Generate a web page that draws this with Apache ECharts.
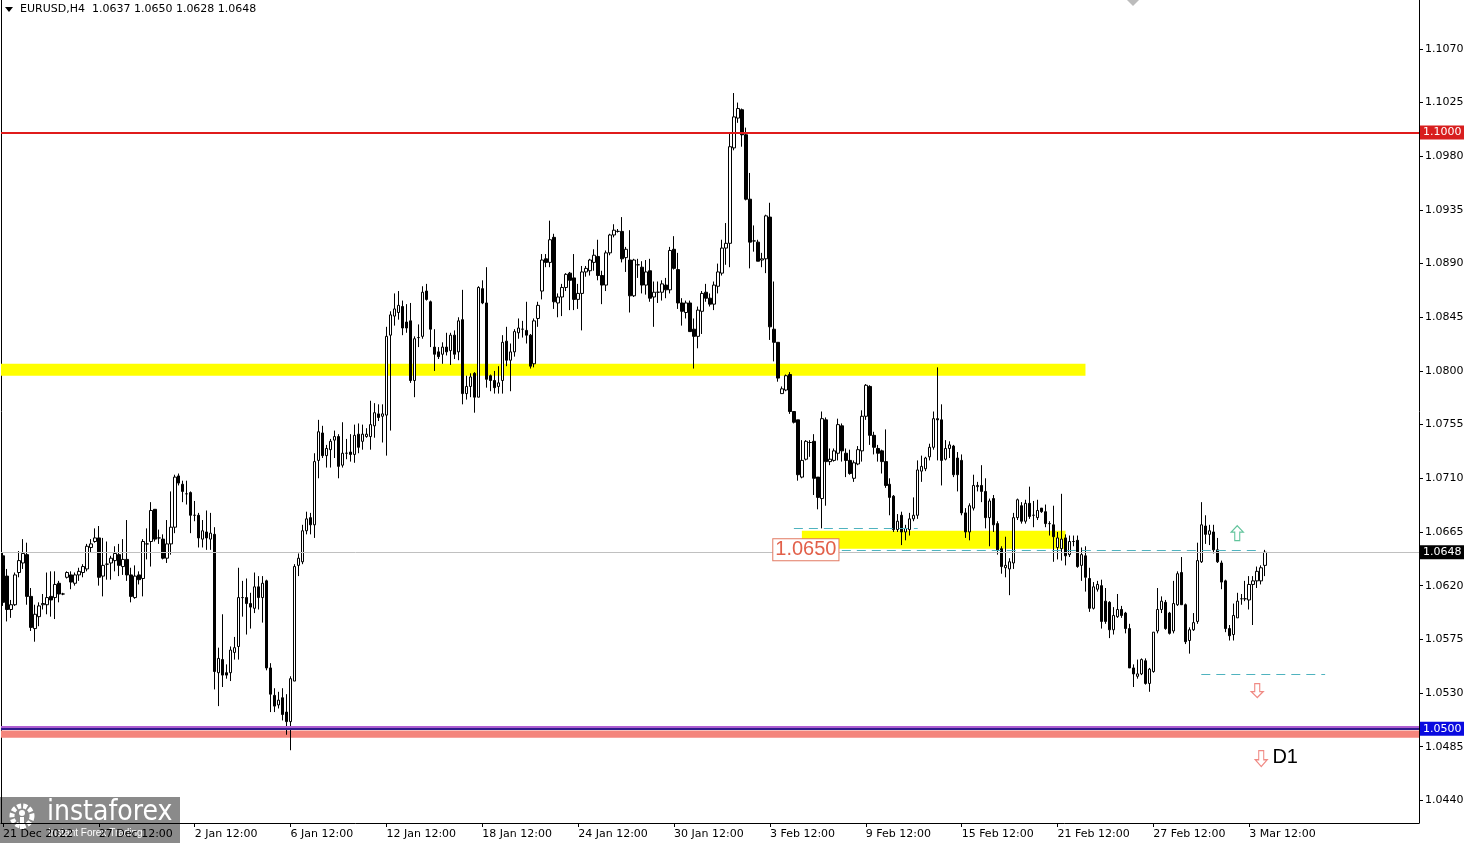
<!DOCTYPE html>
<html>
<head>
<meta charset="utf-8">
<title>EURUSD,H4</title>
<script src="https://cdn.jsdelivr.net/npm/echarts@6.0.0/dist/echarts.min.js"></script>
<style>
  html, body { margin: 0; padding: 0; background: #fff; }
  #chart { width: 1464px; height: 843px; }
</style>
</head>
<body>
<div id="chart"></div>
<script>
// H4 bars, each one [open, close, low, high], first bar 21 Dec 2022 12:00
const bars21Dec = [
  [1.0645,1.0606,1.0603,1.0648],[1.0628,1.0600,1.0590,1.0634],[1.0600,1.0604,1.0593,1.0608],[1.0604,1.0629,1.0603,1.0631],
  [1.0631,1.0641,1.0627,1.0649],[1.0639,1.0647,1.0634,1.0659],[1.0646,1.0611,1.0604,1.0656],[1.0611,1.0585,1.0582,1.0618],
  [1.0584,1.0596,1.0573,1.0604],[1.0594,1.0603,1.0586,1.0606],[1.0604,1.0605,1.0600,1.0613],[1.0604,1.0610,1.0596,1.0631],
  [1.0611,1.0608,1.0594,1.0632],[1.0610,1.0621,1.0592,1.0632],[1.0622,1.0613,1.0606,1.0624],[1.0613,1.0613,1.0612,1.0614],
  [1.0627,1.0631,1.0626,1.0632],[1.0629,1.0623,1.0617,1.0632],[1.0622,1.0629,1.0620,1.0631],[1.0629,1.0632,1.0624,1.0635],
  [1.0631,1.0636,1.0627,1.0638],[1.0634,1.0653,1.0632,1.0655],[1.0652,1.0655,1.0648,1.0659],[1.0657,1.0660,1.0656,1.0668],
  [1.0660,1.0627,1.0620,1.0670],[1.0628,1.0637,1.0611,1.0660],[1.0638,1.0638,1.0625,1.0657],[1.0639,1.0643,1.0625,1.0645],
  [1.0641,1.0647,1.0632,1.0653],[1.0646,1.0637,1.0628,1.0655],[1.0636,1.0642,1.0629,1.0659],[1.0642,1.0629,1.0624,1.0675],
  [1.0629,1.0611,1.0606,1.0635],[1.0610,1.0628,1.0609,1.0637],[1.0629,1.0625,1.0621,1.0632],[1.0626,1.0657,1.0611,1.0659],
  [1.0655,1.0655,1.0642,1.0668],[1.0657,1.0683,1.0636,1.0690],[1.0684,1.0659,1.0657,1.0684],[1.0660,1.0660,1.0655,1.0667],
  [1.0659,1.0643,1.0642,1.0663],[1.0643,1.0655,1.0639,1.0675],[1.0655,1.0669,1.0646,1.0699],[1.0669,1.0711,1.0664,1.0713],
  [1.0712,1.0706,1.0704,1.0714],[1.0705,1.0699,1.0690,1.0708],[1.0697,1.0697,1.0688,1.0708],[1.0698,1.0679,1.0664,1.0699],
  [1.0679,1.0679,1.0674,1.0691],[1.0679,1.0660,1.0652,1.0681],[1.0659,1.0666,1.0652,1.0675],[1.0665,1.0660,1.0650,1.0683],
  [1.0659,1.0664,1.0650,1.0681],[1.0663,1.0548,1.0533,1.0669]
];
const bars3Jan = [
  [1.0547,1.0559,1.0519,1.0568],[1.0558,1.0545,1.0535,1.0596],[1.0547,1.0545,1.0542,1.0554],[1.0547,1.0566,1.0540,1.0569],
  [1.0564,1.0568,1.0558,1.0577],[1.0569,1.0610,1.0558,1.0635],[1.0610,1.0610,1.0594,1.0624],[1.0610,1.0605,1.0579,1.0626],
  [1.0605,1.0602,1.0584,1.0614],[1.0601,1.0619,1.0597,1.0631],[1.0619,1.0610,1.0600,1.0628],[1.0610,1.0622,1.0589,1.0628],
  [1.0624,1.0551,1.0549,1.0625],[1.0551,1.0529,1.0514,1.0555],[1.0528,1.0519,1.0514,1.0534],[1.0520,1.0524,1.0517,1.0531],
  [1.0526,1.0512,1.0507,1.0534],[1.0514,1.0506,1.0495,1.0529],[1.0506,1.0542,1.0482,1.0544],[1.0540,1.0636,1.0540,1.0638],
  [1.0637,1.0643,1.0628,1.0647],[1.0640,1.0666,1.0638,1.0671],[1.0666,1.0676,1.0663,1.0682],[1.0677,1.0671,1.0663,1.0681],
  [1.0671,1.0724,1.0660,1.0731],[1.0725,1.0749,1.0710,1.0759],[1.0748,1.0729,1.0727,1.0754],[1.0729,1.0735,1.0719,1.0738],
  [1.0734,1.0741,1.0719,1.0743],[1.0742,1.0745,1.0727,1.0750],[1.0745,1.0720,1.0710,1.0747],[1.0721,1.0731,1.0719,1.0757],
  [1.0731,1.0731,1.0726,1.0743],[1.0732,1.0730,1.0724,1.0747],[1.0730,1.0746,1.0723,1.0755],[1.0747,1.0736,1.0731,1.0756],
  [1.0741,1.0747,1.0734,1.0755],[1.0745,1.0747,1.0744,1.0752],[1.0745,1.0755,1.0734,1.0775],[1.0754,1.0765,1.0744,1.0773],
  [1.0764,1.0761,1.0758,1.0772],[1.0762,1.0764,1.0740,1.0772],[1.0763,1.0829,1.0729,1.0837],[1.0830,1.0847,1.0750,1.0850],
  [1.0846,1.0852,1.0838,1.0865],[1.0849,1.0855,1.0843,1.0867],[1.0854,1.0836,1.0830,1.0859],[1.0841,1.0836,1.0832,1.0856],
  [1.0842,1.0792,1.0790,1.0857],[1.0792,1.0827,1.0778,1.0829],[1.0828,1.0828,1.0820,1.0839],[1.0829,1.0866,1.0827,1.0871]
];
const bars13Jan = [
  [1.0867,1.0860,1.0859,1.0873],[1.0858,1.0835,1.0820,1.0859],[1.0820,1.0814,1.0800,1.0835],[1.0816,1.0812,1.0810,1.0820],
  [1.0814,1.0820,1.0806,1.0824],[1.0820,1.0816,1.0813,1.0832],[1.0817,1.0830,1.0805,1.0832],[1.0830,1.0814,1.0810,1.0834],
  [1.0816,1.0842,1.0809,1.0845],[1.0843,1.0781,1.0772,1.0868],[1.0781,1.0787,1.0776,1.0796],[1.0787,1.0795,1.0778,1.0798],
  [1.0798,1.0778,1.0765,1.0799],[1.0778,1.0870,1.0778,1.0871],[1.0869,1.0857,1.0856,1.0876],[1.0857,1.0793,1.0786,1.0887],
  [1.0796,1.0792,1.0783,1.0797],[1.0792,1.0786,1.0781,1.0800],[1.0787,1.0790,1.0781,1.0804],[1.0792,1.0824,1.0781,1.0830],
  [1.0825,1.0809,1.0804,1.0837],[1.0809,1.0816,1.0783,1.0823],[1.0816,1.0833,1.0812,1.0835],[1.0832,1.0836,1.0827,1.0844],
  [1.0835,1.0835,1.0828,1.0842],[1.0834,1.0830,1.0823,1.0858],[1.0830,1.0804,1.0802,1.0831],[1.0806,1.0842,1.0803,1.0844],
  [1.0844,1.0855,1.0837,1.0858],[1.0867,1.0893,1.0860,1.0898],[1.0894,1.0891,1.0887,1.0898],[1.0891,1.0910,1.0887,1.0926],
  [1.0912,1.0858,1.0852,1.0915],[1.0857,1.0862,1.0845,1.0865],[1.0862,1.0870,1.0846,1.0873],[1.0870,1.0881,1.0867,1.0882],
  [1.0882,1.0876,1.0851,1.0883],[1.0878,1.0860,1.0851,1.0898],[1.0860,1.0865,1.0852,1.0873],[1.0865,1.0883,1.0834,1.0888],
  [1.0883,1.0886,1.0879,1.0888],[1.0884,1.0893,1.0880,1.0894],[1.0891,1.0897,1.0884,1.0902],[1.0896,1.0880,1.0876,1.0910],
  [1.0880,1.0872,1.0856,1.0884],[1.0872,1.0899,1.0867,1.0901],[1.0899,1.0914,1.0897,1.0915],[1.0914,1.0918,1.0912,1.0923],
  [1.0917,1.0917,1.0916,1.0919],[1.0917,1.0894,1.0891,1.0929],[1.0895,1.0902,1.0883,1.0904],[1.0893,1.0863,1.0849,1.0918],
  [1.0863,1.0893,1.0862,1.0894]
];
const bars26Jan = [
  [1.0889,1.0889,1.0878,1.0894],[1.0887,1.0872,1.0865,1.0892],[1.0872,1.0883,1.0864,1.0893],[1.0884,1.0861,1.0858,1.0894],
  [1.0862,1.0866,1.0837,1.0875],[1.0866,1.0866,1.0857,1.0875],[1.0866,1.0873,1.0859,1.0876],[1.0872,1.0868,1.0861,1.0878],
  [1.0868,1.0901,1.0865,1.0904],[1.0902,1.0886,1.0885,1.0913],[1.0885,1.0857,1.0852,1.0899],[1.0857,1.0850,1.0838,1.0861],
  [1.0849,1.0857,1.0844,1.0859],[1.0857,1.0833,1.0833,1.0859],[1.0835,1.0829,1.0802,1.0844],[1.0829,1.0851,1.0819,1.0854],
  [1.0850,1.0865,1.0831,1.0867],[1.0866,1.0861,1.0858,1.0873],[1.0861,1.0856,1.0854,1.0865],[1.0856,1.0872,1.0851,1.0875],
  [1.0871,1.0883,1.0865,1.0890],[1.0882,1.0903,1.0880,1.0910],[1.0903,1.0907,1.0889,1.0924],[1.0907,1.0988,1.0887,1.0999],
  [1.0987,1.1013,1.0985,1.1033],[1.1012,1.1020,1.1008,1.1025],[1.1019,1.0998,1.0988,1.1020],[1.0998,1.0944,1.0943,1.1004],
  [1.0944,1.0908,1.0886,1.0966],[1.0909,1.0909,1.0900,1.0922],[1.0908,1.0892,1.0892,1.0910],[1.0893,1.0894,1.0887,1.0899],
  [1.0894,1.0930,1.0882,1.0931],[1.0929,1.0837,1.0826,1.0941],[1.0835,1.0824,1.0808,1.0875],[1.0824,1.0794,1.0791,1.0824],
  [1.0781,1.0785,1.0781,1.0787],[1.0784,1.0796,1.0783,1.0797],[1.0797,1.0766,1.0764,1.0799],[1.0766,1.0757,1.0756,1.0766],
  [1.0759,1.0713,1.0708,1.0759],[1.0711,1.0725,1.0710,1.0742],[1.0726,1.0741,1.0725,1.0742],[1.0740,1.0740,1.0728,1.0742],
  [1.0741,1.0710,1.0696,1.0747],[1.0711,1.0694,1.0684,1.0711],[1.0693,1.0760,1.0668,1.0766],[1.0759,1.0724,1.0687,1.0761],
  [1.0724,1.0726,1.0721,1.0735],[1.0725,1.0733,1.0724,1.0735],[1.0731,1.0755,1.0725,1.0760],[1.0754,1.0733,1.0724,1.0756]
];
const bars8Feb = [
  [1.0731,1.0725,1.0711,1.0735],[1.0725,1.0714,1.0713,1.0734],[1.0710,1.0723,1.0707,1.0725],[1.0722,1.0734,1.0721,1.0737],
  [1.0733,1.0762,1.0724,1.0767],[1.0762,1.0788,1.0759,1.0789],[1.0787,1.0746,1.0738,1.0788],[1.0746,1.0736,1.0730,1.0749],
  [1.0735,1.0731,1.0724,1.0738],[1.0733,1.0724,1.0714,1.0734],[1.0724,1.0704,1.0702,1.0751],[1.0705,1.0694,1.0679,1.0710],
  [1.0695,1.0667,1.0665,1.0696],[1.0667,1.0674,1.0665,1.0680],[1.0679,1.0665,1.0654,1.0682],[1.0665,1.0668,1.0658,1.0671],
  [1.0667,1.0676,1.0662,1.0681],[1.0676,1.0679,1.0674,1.0694],[1.0679,1.0717,1.0676,1.0725],[1.0716,1.0720,1.0707,1.0729],
  [1.0718,1.0727,1.0716,1.0728],[1.0728,1.0736,1.0725,1.0739],[1.0736,1.0760,1.0734,1.0766],[1.0760,1.0759,1.0725,1.0803],
  [1.0759,1.0725,1.0704,1.0772],[1.0726,1.0735,1.0725,1.0742],[1.0735,1.0738,1.0727,1.0741],[1.0737,1.0713,1.0711,1.0738],
  [1.0727,1.0713,1.0699,1.0732],[1.0725,1.0681,1.0679,1.0730],[1.0681,1.0665,1.0660,1.0685],[1.0665,1.0687,1.0658,1.0689],
  [1.0685,1.0704,1.0683,1.0713],[1.0703,1.0704,1.0699,1.0707],[1.0704,1.0699,1.0690,1.0721],[1.0699,1.0677,1.0668,1.0710],
  [1.0677,1.0691,1.0653,1.0693],[1.0693,1.0671,1.0665,1.0696],[1.0672,1.0650,1.0646,1.0674],[1.0651,1.0636,1.0630,1.0653],
  [1.0635,1.0637,1.0627,1.0661],[1.0634,1.0640,1.0612,1.0643],[1.0639,1.0677,1.0634,1.0681],[1.0677,1.0692,1.0675,1.0693],
  [1.0687,1.0674,1.0672,1.0690],[1.0674,1.0689,1.0672,1.0692],[1.0689,1.0678,1.0676,1.0703],[1.0679,1.0679,1.0669,1.0691],
  [1.0677,1.0683,1.0675,1.0692],[1.0685,1.0682,1.0681,1.0685],[1.0682,1.0672,1.0669,1.0688],[1.0672,1.0672,1.0662,1.0674],
  [1.0671,1.0661,1.0640,1.0687]
];
const bars21Feb = [
  [1.0652,1.0660,1.0642,1.0665],[1.0651,1.0659,1.0641,1.0697],[1.0660,1.0645,1.0637,1.0663],[1.0646,1.0657,1.0644,1.0662],
  [1.0657,1.0657,1.0653,1.0662],[1.0658,1.0636,1.0635,1.0662],[1.0637,1.0646,1.0624,1.0652],[1.0645,1.0627,1.0615,1.0653],
  [1.0626,1.0601,1.0598,1.0635],[1.0601,1.0619,1.0600,1.0623],[1.0617,1.0621,1.0615,1.0624],[1.0620,1.0590,1.0584,1.0625],
  [1.0607,1.0590,1.0588,1.0618],[1.0606,1.0583,1.0576,1.0607],[1.0583,1.0595,1.0579,1.0602],[1.0594,1.0600,1.0593,1.0613],
  [1.0600,1.0595,1.0593,1.0603],[1.0597,1.0584,1.0580,1.0598],[1.0584,1.0551,1.0551,1.0588],[1.0551,1.0546,1.0535,1.0554],
  [1.0544,1.0546,1.0542,1.0558],[1.0546,1.0558,1.0545,1.0559],[1.0557,1.0538,1.0537,1.0559],[1.0538,1.0550,1.0531,1.0551],
  [1.0548,1.0581,1.0547,1.0581],[1.0582,1.0600,1.0580,1.0618],[1.0600,1.0607,1.0597,1.0611],[1.0606,1.0584,1.0583,1.0608],
  [1.0597,1.0580,1.0579,1.0598],[1.0582,1.0605,1.0580,1.0624],[1.0604,1.0630,1.0603,1.0632],[1.0631,1.0604,1.0604,1.0644],
  [1.0604,1.0573,1.0571,1.0605],[1.0574,1.0583,1.0563,1.0585],[1.0583,1.0589,1.0582,1.0597],[1.0590,1.0641,1.0588,1.0656],
  [1.0640,1.0671,1.0639,1.0690],[1.0670,1.0663,1.0655,1.0679],[1.0663,1.0666,1.0654,1.0671],[1.0665,1.0650,1.0647,1.0671],
  [1.0650,1.0640,1.0639,1.0660],[1.0639,1.0623,1.0617,1.0641],[1.0624,1.0584,1.0581,1.0625],[1.0584,1.0578,1.0574,1.0587],
  [1.0579,1.0595,1.0574,1.0605],[1.0593,1.0607,1.0593,1.0614],[1.0609,1.0609,1.0604,1.0613],[1.0609,1.0609,1.0607,1.0624],
  [1.0608,1.0621,1.0600,1.0628],[1.0621,1.0624,1.0587,1.0628],[1.0624,1.0632,1.0618,1.0636],[1.0624,1.0635,1.0621,1.0637],
  [1.0637,1.0648,1.0628,1.0650]
];

const timeLabels = ['21 Dec 2022', '27 Dec 12:00', '2 Jan 12:00', '6 Jan 12:00', '12 Jan 12:00', '18 Jan 12:00',
  '24 Jan 12:00', '30 Jan 12:00', '3 Feb 12:00', '9 Feb 12:00', '15 Feb 12:00', '21 Feb 12:00', '27 Feb 12:00', '3 Mar 12:00'];
const priceTicks = [1.0440, 1.0485, 1.0530, 1.0575, 1.0620, 1.0665, 1.0710, 1.0755, 1.0800, 1.0845, 1.0890, 1.0935, 1.0980, 1.1025, 1.1070];

const title = 'EURUSD,H4  1.0637 1.0650 1.0628 1.0648';
const lastPrice = 1.0648;
const resistance = 1.1000;
const support = 1.0500;
const zoneLabel = '1.0650';

const bars = [].concat(bars21Dec, bars3Jan, bars13Jan, bars26Jan, bars8Feb, bars21Feb);

// H4 bar times (weekdays only), plus empty room on the right like the terminal's chart shift
const MONTHS = ['Jan', 'Feb', 'Mar', 'Apr', 'May', 'Jun', 'Jul', 'Aug', 'Sep', 'Oct', 'Nov', 'Dec'];
const categories = [];
let t = Date.UTC(2022, 11, 21, 12);
while (categories.length < bars.length + 38) {
  const d = new Date(t);
  if (d.getUTCDay() !== 0 && d.getUTCDay() !== 6) {
    categories.push(d.getUTCDate() + ' ' + MONTHS[d.getUTCMonth()] + ' ' + String(d.getUTCHours()).padStart(2, '0') + ':00');
  }
  t += 4 * 3600 * 1000;
}

const FONT = 'DejaVu Sans';
const Y_MIN = 1.0421;
const Y_MAX = 1.1111;
const showTick = (i) => i % 24 === 0 && i / 24 < timeLabels.length;

const priceTag = (bg, text) => ({
  show: true,
  position: 'end',
  distance: 1,
  formatter: text,
  color: '#fff',
  backgroundColor: bg,
  padding: [2, 3, 1, 3],
  fontFamily: FONT,
  fontSize: 11
});
const dashed = { color: '#4fb3bf', width: 1, type: [9, 6] };
const upArrow = 'path://M6,0 L12,6 L8.5,6 L8.5,14 L3.5,14 L3.5,6 L0,6 Z';

const chart = echarts.init(document.getElementById('chart'), null, { renderer: 'canvas' });

chart.setOption({
  animation: false,
  backgroundColor: '#fff',
  title: {
    text: title,
    left: 20,
    top: 4,
    padding: 0,
    textStyle: { fontFamily: FONT, fontSize: 11, fontWeight: 'normal', color: '#000' }
  },
  grid: { left: 1, right: 45, top: 0, bottom: 20, outerBoundsMode: 'none' },
  xAxis: {
    type: 'category',
    data: categories,
    boundaryGap: true,
    axisLine: { lineStyle: { color: '#000', width: 1 } },
    axisTick: { show: true, interval: showTick, alignWithLabel: true, length: 4, lineStyle: { color: '#000' } },
    axisLabel: {
      interval: showTick,
      formatter: (v, i) => timeLabels[i / 24],
      align: 'left',
      margin: 6,
      color: '#000',
      fontFamily: FONT,
      fontSize: 11
    },
    splitLine: { show: false }
  },
  yAxis: [
    {
      type: 'value',
      position: 'right',
      min: Y_MIN,
      max: Y_MAX,
      axisLine: { show: true, lineStyle: { color: '#000', width: 1 } },
      axisTick: { show: true, length: 4, customValues: priceTicks, lineStyle: { color: '#000' } },
      axisLabel: {
        customValues: priceTicks,
        formatter: (v) => v.toFixed(4),
        margin: 6,
        color: '#000',
        fontFamily: FONT,
        fontSize: 11
      },
      splitLine: { show: false }
    },
    {
      type: 'value',
      position: 'left',
      min: Y_MIN,
      max: Y_MAX,
      axisLine: { show: true, lineStyle: { color: '#000', width: 1 } },
      axisTick: { show: false },
      axisLabel: { show: false },
      splitLine: { show: false }
    }
  ],
  series: [
    {
      type: 'candlestick',
      data: bars,
      barWidth: 3,
      itemStyle: { color: '#fff', color0: '#000', borderColor: '#000', borderColor0: '#000', borderWidth: 1 },
      markArea: {
        silent: true,
        itemStyle: { color: '#ffff00', opacity: 1 },
        data: [
          [{ yAxis: 1.0806 }, { xAxis: 271, yAxis: 1.0796 }],
          [{ xAxis: 200, yAxis: 1.0666 }, { xAxis: 266, yAxis: 1.0651 }],
          [{ yAxis: 1.04985, itemStyle: { color: '#f4857c' } }, { yAxis: 1.04925 }]
        ]
      },
      markLine: {
        silent: true,
        precision: 5,
        symbol: ['none', 'none'],
        label: { show: false },
        data: [
          { yAxis: lastPrice, lineStyle: { color: '#c0c0c0', width: 1, type: 'solid' },
            label: priceTag('#000', lastPrice.toFixed(4)) },
          { yAxis: resistance, lineStyle: { color: '#e01b1b', width: 2, type: 'solid' },
            label: priceTag('#d81e1e', resistance.toFixed(4)) },
          { yAxis: 1.05018, lineStyle: { color: '#b05fd2', width: 2, type: 'solid' } },
          { yAxis: support, lineStyle: { color: '#2e1c8e', width: 2, type: 'solid' },
            label: priceTag('#0a0ae0', support.toFixed(4)) },
          [{ coord: [198, 1.0668], lineStyle: dashed }, { coord: [229, 1.0668] }],
          [{ coord: [210, 1.0650], lineStyle: dashed }, { coord: [314, 1.0650] }],
          [{ coord: [300, 1.0546], lineStyle: dashed }, { coord: [331, 1.0546] }]
        ]
      },
      markPoint: {
        silent: true,
        label: { show: false },
        data: [
          {
            coord: [201, 1.0650], symbol: 'circle', symbolSize: 1, itemStyle: { color: 'rgba(0,0,0,0)' },
            label: {
              show: true, position: 'inside', formatter: zoneLabel,
              color: '#e2604a', backgroundColor: '#fff', borderColor: '#e27a62', borderWidth: 1,
              padding: [1, 2, 0, 2], fontFamily: 'Liberation Sans', fontSize: 20
            }
          },
          { coord: [309, 1.0664], symbol: upArrow, symbolSize: [12, 15],
            itemStyle: { color: '#fff', borderColor: '#62c49c', borderWidth: 1.2 } },
          { coord: [314, 1.0532], symbol: upArrow, symbolSize: [12, 14], symbolRotate: 180,
            itemStyle: { color: '#fff', borderColor: '#f08a84', borderWidth: 1.2 } },
          { coord: [315, 1.0475], symbol: upArrow, symbolSize: [12, 16], symbolRotate: 180,
            itemStyle: { color: '#fff', borderColor: '#f08a84', borderWidth: 1.2 } },
          {
            coord: [321, 1.0476], symbol: 'circle', symbolSize: 1, itemStyle: { color: 'rgba(0,0,0,0)' },
            label: { show: true, position: 'inside', formatter: 'D1', color: '#000', fontFamily: 'Liberation Sans', fontSize: 20 }
          }
        ]
      }
    }
  ],
  graphic: [
    { type: 'polygon', shape: { points: [[5, 7], [13, 7], [9, 12]] }, style: { fill: '#000' } },
    { type: 'polygon', shape: { points: [[1127, 0], [1139, 0], [1133, 6]] }, style: { fill: '#bcbcbc' } },
    {
      type: 'group',
      left: 0,
      top: 797,
      z: 100,
      children: [
        { type: 'rect', shape: { x: 0, y: 0, width: 180, height: 46 }, style: { fill: 'rgba(112,112,112,0.82)' } },
        { type: 'circle', shape: { cx: 22, cy: 19, r: 10 }, style: { fill: 'none', stroke: '#fff', lineWidth: 5, lineDash: [4, 2] } },
        { type: 'circle', shape: { cx: 22, cy: 16, r: 3 }, style: { fill: '#fff' } },
        { type: 'rect', shape: { x: 20, y: 20, width: 4, height: 12 }, style: { fill: '#fff' } },
        { type: 'text', style: { text: 'instaforex', x: 47, y: 2, fill: '#fff',
          font: '28px "Liberation Sans Narrow", "DejaVu Sans Condensed", sans-serif' } },
        { type: 'text', style: { text: 'Instant Forex Trading', x: 48, y: 31, fill: '#fff',
          font: '10px "Liberation Sans", sans-serif' } }
      ]
    }
  ]
});
</script>
</body>
</html>
